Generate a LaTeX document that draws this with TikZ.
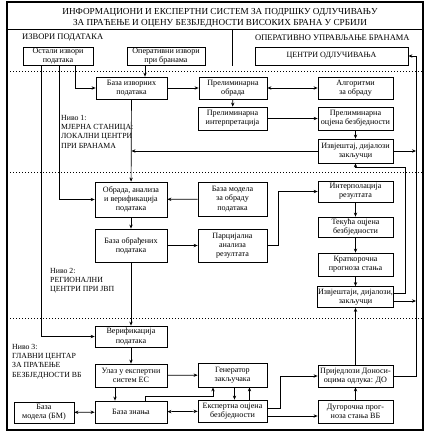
\documentclass[tikz,border=0pt]{standalone}
\usepackage{fontspec}
\setmainfont{Liberation Serif}
\usetikzlibrary{arrows.meta}
\tikzset{
  box/.style={draw,line width=0.8pt,align=center,inner sep=0.5pt,font=\fontsize{8.1}{9.2}\selectfont},
  arr/.style={-{Stealth[length=4pt,width=3.4pt]},line width=0.7pt},
  darr/.style={{Stealth[length=4pt,width=3.4pt]}-{Stealth[length=4pt,width=3.4pt]},line width=0.7pt},
  lvl/.style={align=left,anchor=north west,inner sep=0pt,font=\fontsize{7.8}{9.3}\selectfont},
  hdr/.style={anchor=west,inner sep=0pt,font=\fontsize{8.5}{9}\selectfont},
}
\begin{document}
\begin{tikzpicture}[x=1pt,y=-1pt]
\useasboundingbox (0,0) rectangle (435,442);
% frame and level borders
\draw[line width=1.1pt] (7,2) rectangle (423,430);
\draw[line width=0.8pt] (7,29) -- (423,29);
\draw[line width=0.8pt] (232,29) -- (232,66);
\foreach \y in {71,172,318}{\draw[line width=0.9pt,dash pattern=on 0.9pt off 2.1pt] (7,\y)--(423,\y);}
\node[align=center,font=\fontsize{9.2}{11}\selectfont] (naslov) at (220,17.5) {ИНФОРМАЦИОНИ И ЕКСПЕРТНИ СИСТЕМ ЗА ПОДРШКУ ОДЛУЧИВАЊУ\\ЗА ПРАЋЕЊЕ И ОЦЕНУ БЕЗБЈЕДНОСТИ ВИСОКИХ БРАНА У СРБИЈИ};
\node[hdr] (izvori) at (22,38) {ИЗВОРИ ПОДАТАКА};
\node[hdr] (upravljanje) at (255,38) {ОПЕРАТИВНО УПРАВЉАЊЕ БРАНАМА};
\node[lvl] (nivo1) at (61,115) {Ниво 1:\\МЈЕРНА СТАНИЦА:\\ЛОКАЛНИ ЦЕНТРИ\\ПРИ БРАНАМА};
\node[lvl] (nivo2) at (50,268) {Ниво 2:\\РЕГИОНАЛНИ\\ЦЕНТРИ ПРИ ЈВП};
\node[lvl] (nivo3) at (12,344) {Ниво 3:\\ГЛАВНИ ЦЕНТАР\\ЗА ПРАЋЕЊЕ\\БЕЗБЈЕДНОСТИ ВБ};
% sources
\node[box,minimum width=70pt,minimum height=18pt] (ostali) at (58,56) {Остали извори\\података};
\node[box,minimum width=78pt,minimum height=18pt] (operativni) at (166,56) {Оперативни извори\\при бранама};
\node[box,minimum width=153pt,minimum height=18pt,font=\fontsize{8}{9}\selectfont] (centri) at (331.5,56) {ЦЕНТРИ ОДЛУЧИВАЊА};
% level 1
\node[box,minimum width=71pt,minimum height=22pt] (bazaizv) at (131.5,88) {База изворних\\података};
\node[box,minimum width=68pt,minimum height=22pt] (prelobr) at (233,88) {Прелиминарна\\обрада};
\node[box,minimum width=75pt,minimum height=22pt] (algoritmi) at (355.5,88) {Алгоритми\\за обраду};
\node[box,minimum width=69pt,minimum height=23pt] (prelint) at (232.5,118.5) {Прелиминарна\\интерпретација};
\node[box,minimum width=75pt,minimum height=23pt] (prelocj) at (355.5,118.5) {Прелиминарна\\оцјена безбједности};
\node[box,minimum width=75pt,minimum height=24pt] (izvj1) at (355.5,151) {Извјештај, дијалози\\закључци};
% level 2
\node[box,minimum width=72pt,minimum height=35pt] (obrada) at (131,199.5) {Обрада, анализа\\и верификација\\података};
\node[box,minimum width=69pt,minimum height=34pt] (bazamod) at (232.5,199) {База модела\\за обраду\\података};
\node[box,minimum width=72pt,minimum height=33pt] (bazaobr) at (131,245.5) {База обрађених\\података};
\node[box,minimum width=69pt,minimum height=33pt] (parc) at (232.5,245.5) {Парцијална\\анализа\\резултата};
\node[box,minimum width=75pt,minimum height=21pt] (interp) at (355.5,191.5) {Интерполација\\резултата};
\node[box,minimum width=75pt,minimum height=20pt] (tekuca) at (355.5,227) {Текућа оцјена\\безбједности};
\node[box,minimum width=75pt,minimum height=23pt] (kratko) at (355.5,264.5) {Краткорочна\\прогноза стања};
\node[box,minimum width=75pt,minimum height=21pt] (izvj2) at (355.5,297) {Извјештаји, дијалози,\\закључци};
% level 3
\node[box,minimum width=72pt,minimum height=21pt] (verif) at (131,336.5) {Верификација\\података};
\node[box,minimum width=72pt,minimum height=23pt] (ulaz) at (131,375.5) {Улаз у експертни\\систем ЕС};
\node[box,minimum width=72pt,minimum height=22pt] (znanje) at (131,412) {База знања};
\node[box,minimum width=60pt,minimum height=21pt] (bazabm) at (44,412.5) {База\\модела (БМ)};
\node[box,minimum width=69pt,minimum height=24pt] (generator) at (232.5,375) {Генератор\\закључака};
\node[box,minimum width=69pt,minimum height=22pt] (ekspert) at (232.5,411) {Експертна оцјена\\безбједности};
\node[box,minimum width=75pt,minimum height=22pt] (prijedlozi) at (355.5,376) {Приједлози Доноси-\\оцима одлука: ДО};
\node[box,minimum width=75pt,minimum height=23pt] (dugorocna) at (355.5,411.5) {Дугорочна прог-\\ноза стања ВБ};
\coordinate (desno) at (416,56);
% connectors
\draw[arr] ([xshift=-21pt]operativni.south) -- ([xshift=-21pt]operativni.south |- bazaizv.north);
\draw[arr] ([xshift=17pt]ostali.south) |- (bazaizv.west);
\draw[arr] ([xshift=1pt]ostali.south) |- (obrada.west);
\draw[arr] ([xshift=-17pt]ostali.south) |- (verif.west);
\draw[arr] (bazaizv) -- (prelobr);
\draw[darr] (prelobr) -- (algoritmi);
\draw[arr] (prelobr) -- (prelint);
\draw[arr] (prelint) -- (prelocj);
\draw[arr] (prelocj) -- (izvj1);
\draw[arr] (bazaizv) -- (obrada);
\draw[arr] (izvj1.west) -- (izvj1.west -| bazaizv.south);
\draw[arr] (izvj1.east) -- (izvj1.east -| desno);
\draw[arr] (bazamod) -- (obrada);
\draw[arr] (obrada) -- (bazaobr);
\draw[arr] (bazaobr) -- (parc);
\draw[arr] (parc.east) -- ++(11,0) |- (interp.west);
\foreach \a/\b in {interp/tekuca,tekuca/kratko,kratko/izvj2}{\draw[arr] (\a)--(\b);}
\draw[arr] ([yshift=4pt]izvj2.east) -- ++(12,0) -- ++(0,-126) -| (izvj1.south);
\draw[arr] ([yshift=-4pt]izvj2.east) -- ([yshift=-4pt]izvj2.east -| desno);
\draw[arr] (bazaobr) -- (verif);
\draw[arr] (verif) -- (ulaz);
\draw[arr] ([xshift=-16pt]ulaz.south) -- ([xshift=-16pt]znanje.north);
\draw[arr] (ulaz) -- (generator);
\draw[arr] ([xshift=14pt]znanje.north) -- ++(0,-4) -| ([xshift=-19.5pt]generator.south);
\draw[arr] ([xshift=2pt]generator.south) -- ([xshift=2pt]ekspert.north);
\draw[arr] ([xshift=17pt]ekspert.north) -- ([xshift=17pt]generator.south);
\draw[darr] (bazabm) -- (znanje);
\draw[darr] (znanje) -- (ekspert);
\draw[arr] ([yshift=3pt]ekspert.east) -- ++(13,0) |- (prijedlozi.west);
\draw[arr] ([yshift=-5pt]ekspert.east) -- ([yshift=-5pt]ekspert.east -| dugorocna.west);
\draw[arr] (dugorocna) -- (prijedlozi);
\draw[arr] (prijedlozi) -- (izvj2);
\draw[arr] (prijedlozi.east) -| (desno) -- (centri.east);
\end{tikzpicture}
\end{document}
